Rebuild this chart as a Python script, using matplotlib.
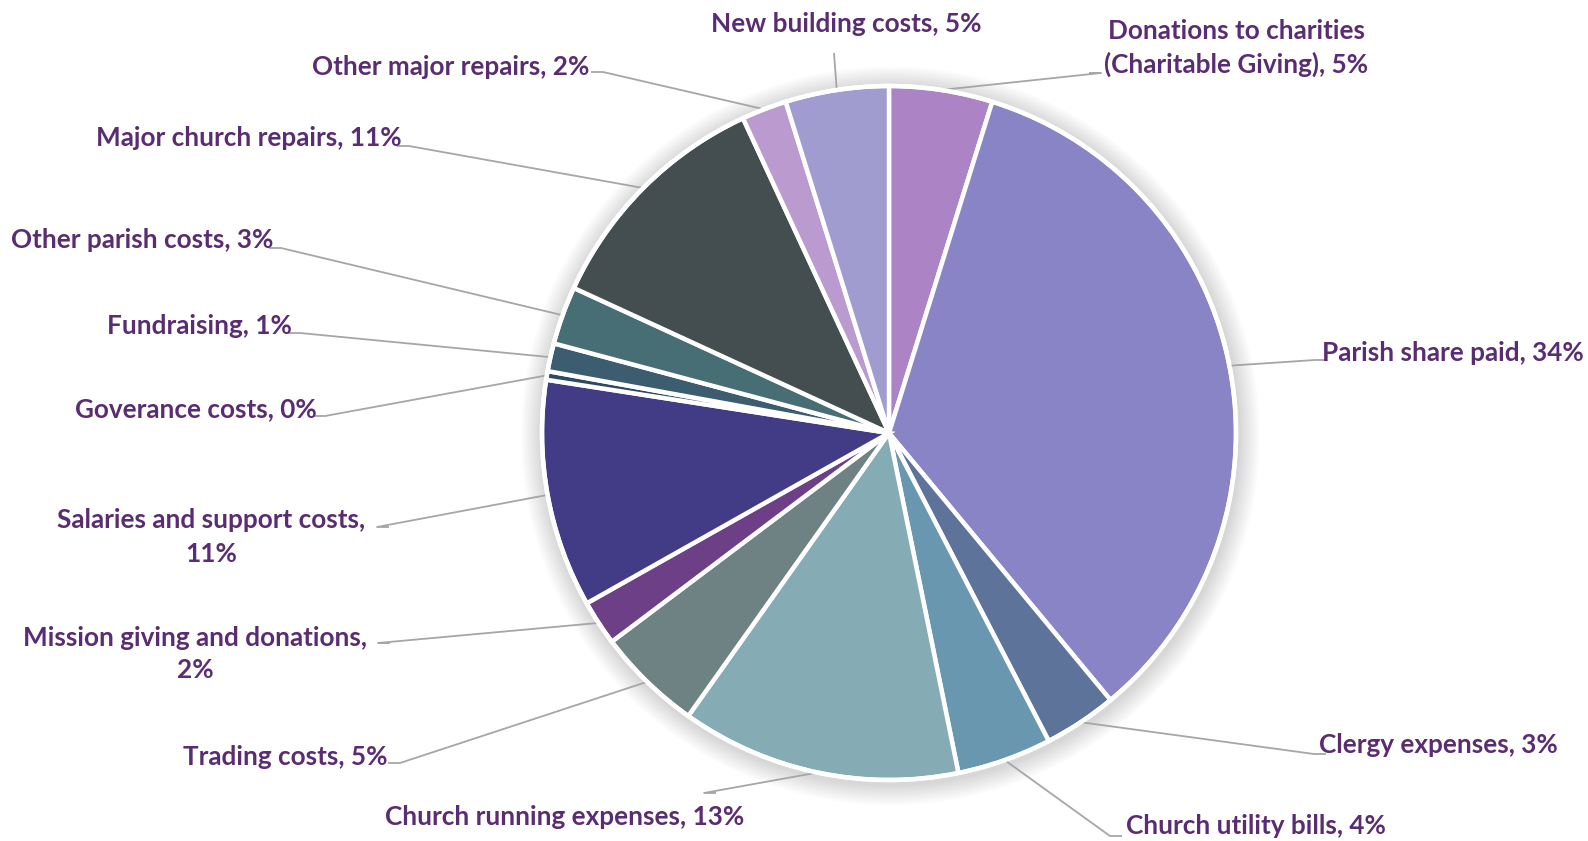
import numpy as np
import matplotlib.pyplot as plt

# Expenditure categories, clockwise from 12 o'clock
categories = [
    "Donations to charities\n(Charitable Giving)",
    "Parish share paid",
    "Clergy expenses",
    "Church utility bills",
    "Church running expenses",
    "Trading costs",
    "Mission giving and donations",
    "Salaries and support costs",
    "Goverance costs",
    "Fundraising",
    "Other parish costs",
    "Major church repairs",
    "Other major repairs",
    "New building costs",
]
shares = [4.8, 34.1, 3.4, 4.4, 13.0, 4.9, 2.1, 10.6, 0.4, 1.3, 2.7, 11.2, 2.1, 4.8]
colors = [
    "#AC83C4", "#8884C5", "#5E7399", "#6897AF", "#85ACB5", "#6F8283", "#6C3F87",
    "#423C86", "#2C4A60", "#3C5C6F", "#476D75", "#444D4F", "#BB9ACF", "#A09CD0",
]
# labels whose percentage goes on its own line
wrapped = {"Mission giving and donations", "Salaries and support costs"}

# label placement in pixels: (text x, text y, alignment, leader end x, leader end y)
W, H = 1588, 841
CX, CY, R = 889, 433, 347
label_spots = [
    (1236, 48, "center", 1101, 73),
    (1322, 353, "left", 1315, 360),
    (1319, 745, "left", 1314, 754),
    (1126, 826, "left", 1110, 836),
    (565, 817, "center", 704, 793),
    (387, 757, "right", 400, 763),
    (195, 654, "center", 378, 643),
    (211, 537, "center", 377, 527),
    (317, 409, "right", 325, 416),
    (292, 326, "right", 300, 333),
    (273, 240, "right", 281, 248),
    (402, 138, "right", 409, 146),
    (589, 67, "right", 603, 72),
    (846, 24, "center", 834, 53),
]


def px(x, y):
    return (x - CX) / R, (CY - y) / R


fig = plt.figure(figsize=(W / 100, H / 100), dpi=100)
ax = fig.add_axes([0, 0, 1, 1])

# soft shadow round the pie
for k in range(10):
    ax.add_patch(plt.Circle((0.004, -0.008), 1.010 + k * 0.006, color="#000000",
                            alpha=0.016, lw=0, zorder=0))

wedges, _ = ax.pie(shares, colors=colors, startangle=90, counterclock=False,
                   radius=1.0, center=(0, 0),
                   wedgeprops=dict(edgecolor="white", linewidth=3.2))
ax.add_patch(plt.Circle((0, 0), 1.0, fill=False, ec="white", lw=3.2, zorder=3))

total = sum(shares)
text_color = "#5A2D73"
for w, name, v, spot in zip(wedges, categories, shares, label_spots):
    tx, ty, ha, ex, ey = spot
    mid = np.deg2rad((w.theta1 + w.theta2) / 2)
    sx, sy = np.cos(mid), np.sin(mid)
    lx, ly = px(ex, ey)
    if name == "New building costs":
        xs, ys = [sx, lx], [sy, ly]
    else:
        # short horizontal stub next to the text
        stub = 12 / R if ha != "right" else -12 / R
        if ha == "center":
            stub = -12 / R if lx > 0 else 12 / R
        xs, ys = [sx, lx, lx + stub], [sy, ly, ly]
    ax.plot(xs, ys, color="#A6A6A6", lw=1.3, zorder=1, solid_capstyle="butt")

    pct = int(round(v / total * 100))
    sep = ",\n" if name in wrapped else ", "
    tpx, tpy = px(tx, ty)
    ax.text(tpx, tpy, f"{name}{sep}{pct}%", ha=ha, va="center", color=text_color,
            fontsize=18.8, fontweight="bold", family=["Lato", "DejaVu Sans"],
            linespacing=1.45, multialignment="center")

ax.set_xlim(-CX / R, (W - CX) / R)
ax.set_ylim(-(H - CY) / R, CY / R)
ax.set_aspect("equal")
ax.axis("off")

fig.savefig("out.png", dpi=100, facecolor="white")
